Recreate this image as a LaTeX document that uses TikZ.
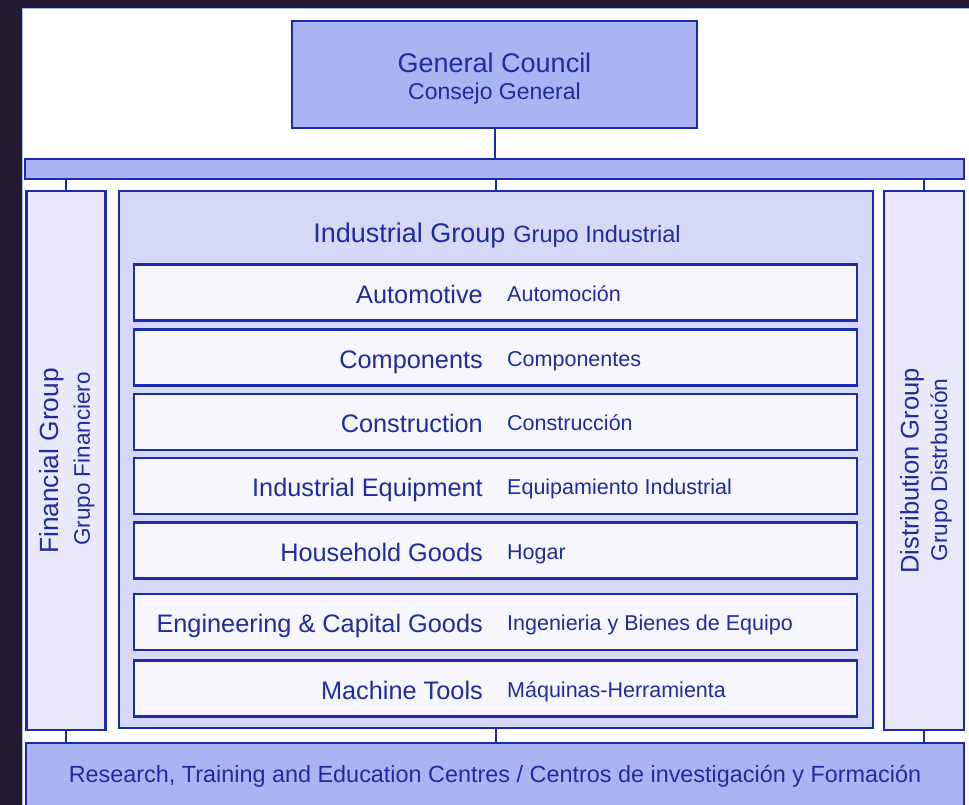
\documentclass[tikz,border=0pt]{standalone}
\usepackage{fontspec}
\setmainfont{Liberation Sans}
\definecolor{frame}{HTML}{221A2E}
\definecolor{ink}{HTML}{1F2C9E}
\definecolor{edge}{HTML}{1C2AAE}
\definecolor{fillA}{HTML}{ABB4F2}
\definecolor{fillB}{HTML}{D5D8F7}
\definecolor{fillC}{HTML}{F6F6FC}
\definecolor{fillD}{HTML}{E9E9F9}
\tikzset{
  boxbase/.style={draw=edge, line width=2.3pt, inner sep=0pt, outer sep=0pt},
  strong/.style={boxbase, fill=fillA},
  sidebox/.style={boxbase, fill=fillD},
  groupbox/.style={boxbase, fill=fillB},
  unitbox/.style={boxbase, fill=fillC, minimum width=723pt, minimum height=56pt},
  conn/.style={draw=edge, line width=2pt},
  en/.style={text=ink, anchor=base east, inner sep=0pt, font=\fontsize{25.3}{30}\selectfont},
  es/.style={text=ink, anchor=base west, inner sep=0pt, font=\fontsize{21.5}{26}\selectfont},
  big/.style={text=ink, inner sep=0pt, font=\fontsize{27}{32}\selectfont},
  small/.style={text=ink, inner sep=0pt, font=\fontsize{23}{28}\selectfont},
}
\begin{document}
\begin{tikzpicture}[x=1pt,y=-1pt]
\useasboundingbox (0,0) rectangle (969,805);
\clip (0,0) rectangle (969,805);
\fill[frame] (0,0) rectangle (969,805);
\fill[white, draw=fillA, line width=0.8pt] (22,8) rectangle (975,815);

% boxes
\node[strong, minimum width=405pt, minimum height=107pt] (council) at (494.5,74.5) {};
\node[strong, minimum width=939pt, minimum height=20pt] (bar) at (494.5,169) {};
\node[sidebox, minimum width=79pt, minimum height=539pt] (fin) at (66,460.5) {};
\node[groupbox, minimum width=754pt, minimum height=537pt] (ind) at (496,459.5) {};
\node[sidebox, minimum width=80pt, minimum height=539pt] (dist) at (924,460.5) {};
\node[strong, minimum width=938pt, minimum height=80pt] (res) at (495,783) {};

% connectors
\draw[conn] (council.south) -- (bar.north);
\draw[conn] (bar.south -| fin.north) -- (fin.north);
\draw[conn] (bar.south -| ind.north) -- (ind.north);
\draw[conn] (bar.south -| dist.north) -- (dist.north);
\draw[conn] (fin.south) -- (fin.south |- res.north);
\draw[conn] (ind.south) -- (ind.south |- res.north);
\draw[conn] (dist.south) -- (dist.south |- res.north);

% council text
\node[big] (gc) at (494.5,63) {General Council};
\node[small] (cg) at (494.5,94) {Consejo General};

% industrial title
\node[text=ink, anchor=base, inner sep=0pt] (indt) at (497,242)
  {{\fontsize{27}{32}\selectfont Industrial Group}\hspace{8pt}{\fontsize{23.5}{28}\selectfont Grupo Industrial}};

% units
\node[unitbox] (u1) at (495.5,292.5) {};
\node[unitbox] (u2) at (495.5,357.5) {};
\node[unitbox] (u3) at (495.5,422) {};
\node[unitbox] (u4) at (495.5,486) {};
\node[unitbox] (u5) at (495.5,550.5) {};
\node[unitbox] (u6) at (495.5,622) {};
\node[unitbox] (u7) at (495.5,688.5) {};

\node[en] (e1) at (483,303) {Automotive};
\node[es] (s1) at (507,301) {Automoción};
\node[en] (e2) at (483,368) {Components};
\node[es] (s2) at (507,366) {Componentes};
\node[en] (e3) at (483,432.5) {Construction};
\node[es] (s3) at (507,430.5) {Construcción};
\node[en] (e4) at (483,496.5) {Industrial Equipment};
\node[es] (s4) at (507,494.5) {Equipamiento Industrial};
\node[en] (e5) at (483,561) {Household Goods};
\node[es] (s5) at (507,559) {Hogar};
\node[en] (e6) at (483,632.5) {Engineering \& Capital Goods};
\node[es] (s6) at (507,630.5) {Ingenieria y Bienes de Equipo};
\node[en] (e7) at (483,699) {Machine Tools};
\node[es] (s7) at (507,697) {Máquinas-Herramienta};

% side labels
\node[big, rotate=90, font=\fontsize{26.3}{30}\selectfont] (fg) at (52,461) {Financial Group};
\node[small, rotate=90, font=\fontsize{22.5}{27}\selectfont] (gf) at (84,459) {Grupo Financiero};
\node[big, rotate=90, font=\fontsize{25.5}{30}\selectfont] (dg) at (912,471) {Distribution Group};
\node[small, rotate=90, font=\fontsize{22.7}{27}\selectfont] (gd) at (941,470) {Grupo Distrbución};

% research
\node[small, font=\fontsize{23.4}{28}\selectfont] (rt) at (495,776) {Research, Training and Education Centres / Centros de investigación y Formación};
\end{tikzpicture}
\end{document}
